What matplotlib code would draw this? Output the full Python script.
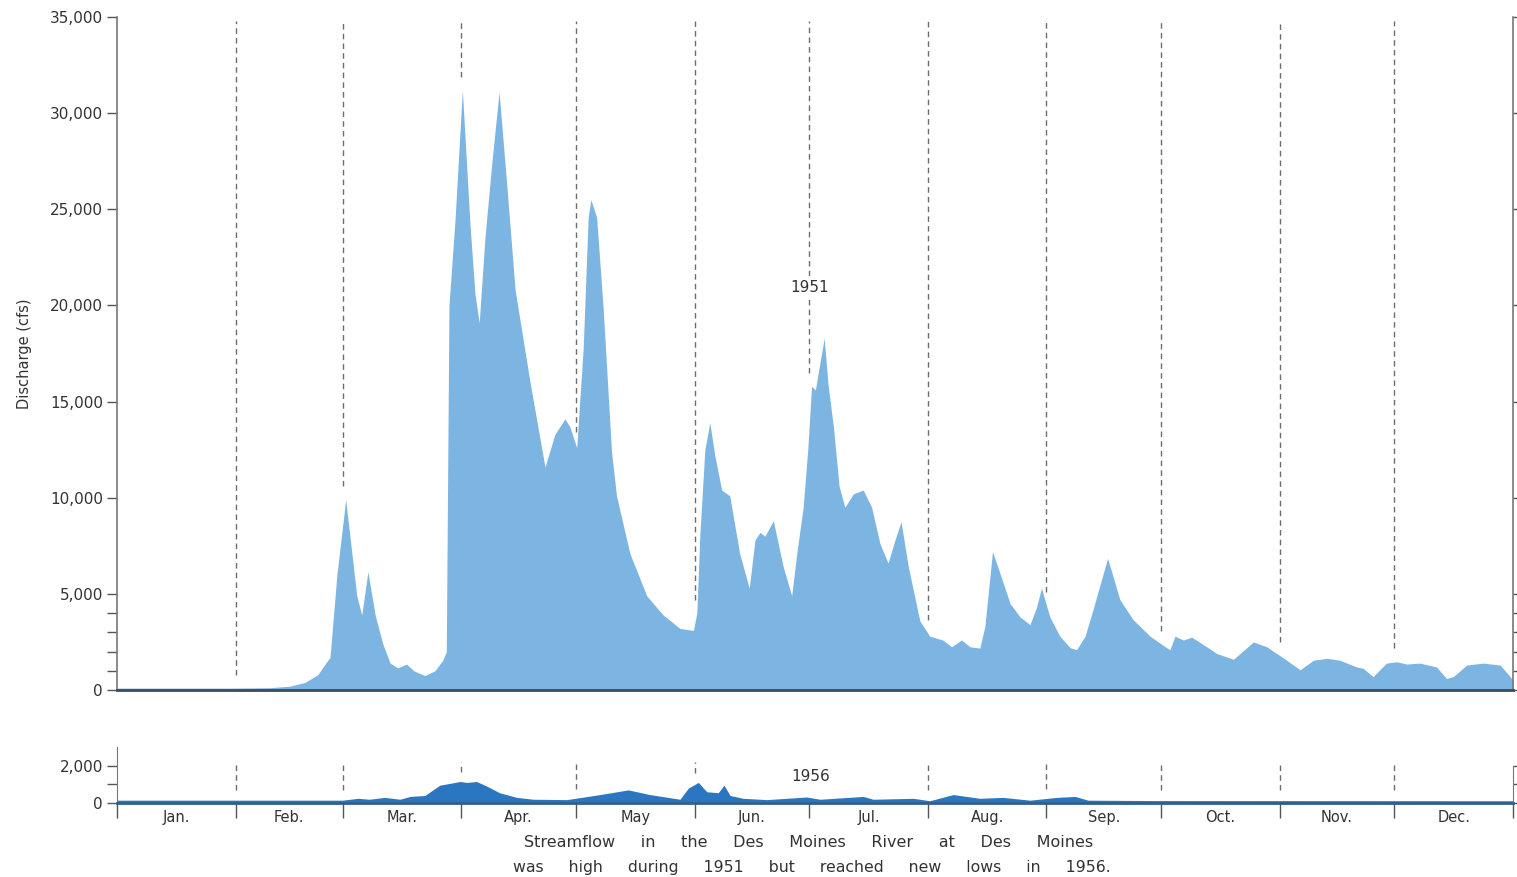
import numpy as np
import matplotlib.pyplot as plt
from matplotlib.ticker import FuncFormatter, FixedLocator

# 1951 daily discharge (cfs): day of year, flow
days_1951 = [0, 29.5, 40, 45.2, 49.2, 52.5, 54.6, 55.7, 57.5, 59.8, 62.7, 64, 65.6, 67.5,
             69.5, 71.4, 73.4, 75.7, 77.6, 80.5, 83.1, 85.2, 86.1, 86.8, 88.4, 90.3, 92.3,
             93.6, 94.7, 96.2, 98.0, 99.9, 101.9, 104.1, 108.0, 111.9, 114.5, 117.1, 118.4,
             120.2, 121.9, 123.2, 123.9, 125.4, 127.1, 129.3, 130.6, 134.1, 138.5, 142.8,
             147.2, 150.7, 151.6, 152.4, 153.7, 155.0, 156.3, 158.1, 160.2, 162.8, 165.3,
             166.8, 168.1, 169.4, 171.6, 174.2, 176.4, 177.8, 179.4, 180.6, 181.6, 182.6,
             183.6, 184.9, 185.9, 187.3, 188.8, 190.3, 192.5, 195.1, 197.3, 199.5, 201.6,
             203.4, 205.0, 206.9, 208.4, 209.9, 212.5, 215.9, 218.2, 220.8, 223.0, 225.6,
             226.9, 228.9, 230.8, 233.5, 236.1, 238.7, 240.4, 241.7, 243.9, 246.5, 249.2,
             250.9, 253.1, 255.2, 259.0, 262.2, 265.7, 270.1, 274.4, 275.3, 276.6, 278.8,
             281.0, 284.9, 287.5, 291.9, 297.1, 300.6, 305.8, 309.3, 312.8, 316.3, 319.7,
             324.1, 325.8, 328.4, 331.9, 334.6, 337.2, 340.6, 345.0, 347.6, 349.4, 352.9,
             357.2, 361.6, 363.8, 365]
flow_1951 = [100, 100, 120, 200, 400, 800, 1400, 1700, 6000, 9900, 4900, 3900, 6150, 3900,
             2400, 1400, 1150, 1350, 1000, 750, 1000, 1550, 2000, 20000, 24500, 31200, 24200,
             20600, 19100, 23500, 27400, 31100, 26300, 20800, 16000, 11600, 13300, 14100, 13700,
             12600, 17800, 24600, 25500, 24600, 19900, 12400, 10100, 7100, 4900, 3900,
             3200, 3100, 4000, 8100, 12500, 13900, 12200, 10400, 10100, 7100, 5300,
             7800, 8200, 8000, 8800, 6400, 4900, 7200, 9500, 12500, 15800, 15600,
             16800, 18300, 15900, 13700, 10600, 9500, 10200, 10400, 9500, 7600, 6600,
             7800, 8750, 6400, 5000, 3600, 2800, 2600, 2250, 2600, 2250, 2180,
             3300, 7200, 6100, 4500, 3800, 3400, 4300, 5300, 3800, 2800, 2200,
             2100, 2800, 4200, 6850, 4700, 3650, 2800, 2200, 2100, 2800, 2600,
             2750, 2250, 1900, 1600, 2500, 2250, 1550, 1050, 1550, 1650, 1550,
             1200, 1130, 700, 1400, 1470, 1350, 1400, 1200, 600, 700, 1300,
             1400, 1300, 800, 500]

# 1956 daily discharge (cfs)
days_1956 = [0, 59, 63, 66, 70, 74, 76.6, 80.5, 82.6, 84.4, 89.7, 91.4, 94, 96.7, 100,
             104.5, 108.8, 117.6, 126.3, 133.7, 139.3, 147.2, 149.4, 152, 154.2, 157.2,
             158.7, 160.3, 163.7, 169.9, 180.3, 183.8, 195.1, 197.7, 208.2, 212.5, 218.6,
             225.6, 231.6, 238.7, 245.7, 250.5, 253.9, 270, 365]
flow_1956 = [150, 150, 250, 200, 300, 200, 350, 400, 700, 950, 1150, 1100, 1150, 900, 550,
             300, 200, 180, 450, 700, 450, 200, 800, 1100, 600, 550,
             950, 400, 250, 180, 320, 200, 350, 200, 250, 120, 450,
             250, 300, 150, 300, 350, 150, 130, 120]

month_starts = [0, 31, 59, 90, 120, 151, 181, 212, 243, 273, 304, 334, 365]
month_labels = ["Jan.", "Feb.", "Mar.", "Apr.", "May", "Jun.", "Jul.", "Aug.",
                "Sep.", "Oct.", "Nov.", "Dec."]

ink = "#333333"
light_blue = "#7db5e2"
dark_blue = "#2b76c1"

fig = plt.figure(figsize=(15.17, 8.77), dpi=100)
ax = fig.add_axes([0.0771, 0.2132, 0.9203, 0.7674])
ax2 = fig.add_axes([0.0771, 0.0844, 0.9203, 0.0639])

fmt = FuncFormatter(lambda v, p: f"{int(v):,}")

# ---- 1951 panel
ax.fill_between(days_1951, flow_1951, 0, color=light_blue, lw=0, zorder=2)
ax.set_xlim(0, 365)
ax.set_ylim(0, 35000)
ax.set_yticks(np.arange(0, 35001, 5000))
ax.yaxis.set_minor_locator(FixedLocator([1000, 2000, 3000, 4000]))
ax.yaxis.set_major_formatter(fmt)
ax.tick_params(axis="y", which="both", left=True, right=True, direction="out",
               length=7, width=1, color="#555555", labelsize=11, labelcolor=ink, pad=3)
ax.set_xticks([])
for s in ["left", "right"]:
    ax.spines[s].set_color("#777777")
    ax.spines[s].set_linewidth(1.2)
ax.spines["top"].set_visible(False)
ax.spines["bottom"].set_color("#3d4a58")
ax.spines["bottom"].set_linewidth(2)
ax.set_ylabel("Discharge (cfs)", fontsize=10.5, color=ink, labelpad=13)

# dashed month dividers stop just above the hydrograph
d = np.array(days_1951)
f = np.array(flow_1951)
for m in month_starts[1:-1]:
    near = f[(d >= m - 1) & (d <= m + 1)]
    top_flow = max(near.max() if near.size else 0, np.interp(m, d, f))
    ax.vlines(m, top_flow + 700, 34800, colors="#6d6d6d", linestyles=(0, (4, 3)), lw=1, zorder=3)
ax.text(181, 20950, "1951", ha="center", va="center", fontsize=11, color=ink, zorder=4,
        bbox=dict(facecolor="white", edgecolor="none", pad=3))

# ---- 1956 panel
ax2.fill_between(days_1956, flow_1956, 0, color=dark_blue, lw=0, zorder=2)
ax2.set_xlim(0, 365)
ax2.set_ylim(0, 3000)
ax2.set_yticks([0, 2000])
ax2.yaxis.set_minor_locator(FixedLocator([1000]))
ax2.yaxis.set_major_formatter(fmt)
ax2.tick_params(axis="y", which="both", left=True, right=True, direction="out",
                length=7, width=1, color="#555555", labelsize=11, labelcolor=ink, pad=3)
ax2.set_xticks(month_starts)
ax2.set_xticklabels([])
ax2.set_xticks([(a + b) / 2 for a, b in zip(month_starts[:-1], month_starts[1:])], minor=True)
ax2.set_xticklabels(month_labels, minor=True)
ax2.tick_params(axis="x", which="major", direction="out", length=11, width=1, color="#555555")
ax2.tick_params(axis="x", which="minor", length=0, labelsize=10.5, labelcolor=ink, pad=5)
ax2.spines["top"].set_visible(False)
ax2.spines["left"].set_color("#777777")
ax2.spines["right"].set_color("#777777")
ax2.spines["right"].set_bounds(0, 2000)
ax2.spines["bottom"].set_color("#2f5f8f")
ax2.spines["bottom"].set_linewidth(2)

d2 = np.array(days_1956)
f2 = np.array(flow_1956)
for m in month_starts[1:-1]:
    if m == 181:
        continue
    near = f2[(d2 >= m - 2) & (d2 <= m + 2)]
    lo = max(700, max(near.max() if near.size else 0, np.interp(m, d2, f2)) + 500)
    ax2.vlines(m, lo, 2200, colors="#6d6d6d", linestyles=(0, (4, 3)), lw=1, zorder=3)
ax2.text(181.5, 1400, "1956", ha="center", va="center", fontsize=11, color=ink)

# caption
fig.text(0.533, 0.0388, "Streamflow     in     the     Des     Moines     River     at     Des     Moines",
         ha="center", va="center", fontsize=11.5, color=ink)
fig.text(0.535, 0.0114, "was     high     during     1951     but     reached     new     lows     in     1956.",
         ha="center", va="center", fontsize=11.3, color=ink)

fig.savefig("out.png", dpi=100)
